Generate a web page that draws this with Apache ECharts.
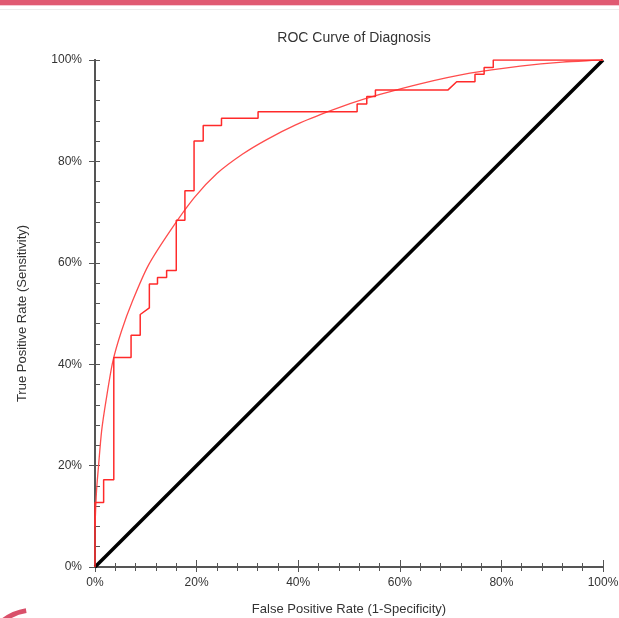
<!DOCTYPE html>
<html>
<head>
<meta charset="utf-8">
<script src="https://cdn.jsdelivr.net/npm/echarts@6/dist/echarts.min.js"></script>
<style>
	html, body { margin: 0; padding: 0; background: #fff; }
	#chart_roc { width: 619px; height: 618px; }
</style>
</head>
<body>
<div id="chart_roc"></div>
<script>
// empirical ROC (step) points, in percent
var stepFpr = [0, 0, 1.7, 1.7, 3.7, 3.7, 7.1, 7.1, 8.9, 8.9, 10.7, 10.7, 12.3, 12.3, 14.1, 14.1, 16.0, 16.0, 17.7, 17.7, 19.5, 19.5, 21.3, 21.3, 24.9, 24.9, 32.1, 32.1, 51.6, 51.6, 53.5, 53.5, 55.2, 55.2, 69.5, 71.2, 74.8, 74.8, 76.6, 76.6, 78.4, 78.4, 100];
var stepTpr = [0, 12.7, 12.7, 17.2, 17.2, 41.3, 41.3, 45.7, 45.7, 49.8, 51.1, 55.8, 55.8, 57.1, 57.1, 58.5, 58.5, 68.4, 68.4, 74.2, 74.2, 84.0, 84.0, 87.1, 87.1, 88.5, 88.5, 89.8, 89.8, 91.3, 91.3, 92.8, 92.8, 94.1, 94.1, 95.7, 95.7, 97.2, 97.2, 98.5, 98.5, 100, 100];

// fitted (smooth) ROC curve
var fitFpr = [0, 0.3, 0.7, 1.3, 2.2, 3.5, 5.2, 7.4, 10.5, 14.8, 19.5, 24, 29, 33.8, 39.5, 45.6, 50.2, 56.1, 64, 73.8, 83.7, 92, 100];
var fitTpr = [8, 15, 20, 26.8, 33, 40.5, 46.5, 52.5, 59.5, 66.3, 72.8, 77.6, 81.4, 84.3, 87.2, 89.7, 91.4, 93.2, 95.3, 97.4, 98.8, 99.6, 100];

// chance line
var refFpr = [0, 100];
var refTpr = [0, 100];

var toPairs = function(xs, ys) {
	var rtn = [];
	xs.forEach(function(x, i) {
		rtn.push([x, ys[i]]);
	});
	return rtn;
};

var axisColor = '#555';
var gridBox = { left: 95, right: 16, top: 60, bottom: 51, outerBoundsMode: 'none' };

var option_roc = {
	animation: false,
	backgroundColor: '#fff',
	title: {
		text: 'ROC Curve of Diagnosis',
		left: 349,
		textAlign: 'center',
		top: 26,
		textStyle: { fontFamily: 'Liberation Sans', fontSize: 14, fontWeight: 'normal', color: '#333' }
	},
	grid: [
		echarts.util.clone(gridBox),
		echarts.util.clone(gridBox)
	],
	xAxis: [
		{
			type: 'value', gridIndex: 0, position: 'bottom',
			min: 0, max: 100, interval: 20,
			name: 'False Positive Rate (1-Specificity)',
			nameLocation: 'middle', nameGap: 36,
			nameTextStyle: { fontFamily: 'Liberation Sans', fontSize: 13, color: '#333' },
			axisLine: { lineStyle: { color: axisColor, width: 2 } },
			axisTick: { length: 5, lineStyle: { color: axisColor } },
			minorTick: { show: true, splitNumber: 5, length: 4, lineStyle: { color: axisColor } },
			axisLabel: { margin: 10, formatter: '{value}%', fontFamily: 'Liberation Sans', fontSize: 12, color: '#333' },
			splitLine: { show: false }
		},
		{
			type: 'value', gridIndex: 0, position: 'top',
			min: 0, max: 100, interval: 20,
			axisLine: { lineStyle: { color: axisColor, width: 2 } },
			axisTick: { length: 7, lineStyle: { color: axisColor } },
			minorTick: { show: true, splitNumber: 5, length: 4, lineStyle: { color: axisColor } },
			axisLabel: { show: false },
			splitLine: { show: false }
		},
		{
			type: 'value', gridIndex: 1, min: 0, max: 100, show: false
		}
	],
	yAxis: [
		{
			type: 'value', gridIndex: 0, position: 'left',
			min: 0, max: 100, interval: 20,
			name: 'True Positive Rate (Sensitivity)',
			nameLocation: 'middle', nameGap: 66,
			nameTextStyle: { fontFamily: 'Liberation Sans', fontSize: 13, color: '#333' },
			axisLine: { lineStyle: { color: axisColor, width: 2 } },
			axisTick: { length: 6, lineStyle: { color: axisColor } },
			axisLabel: { margin: 13, formatter: '{value}%', fontFamily: 'Liberation Sans', fontSize: 12, color: '#333' },
			splitLine: { show: false }
		},
		{
			type: 'value', gridIndex: 0, position: 'right',
			min: 0, max: 100, interval: 20,
			axisLine: { lineStyle: { color: axisColor, width: 2 } },
			axisTick: { length: 5, lineStyle: { color: axisColor } },
			minorTick: { show: true, splitNumber: 5, length: 5, lineStyle: { color: axisColor } },
			axisLabel: { show: false },
			splitLine: { show: false }
		},
		{
			// inner minor ticks on the left side
			type: 'value', gridIndex: 1, position: 'left',
			min: 0, max: 100, interval: 4,
			axisLine: { show: false },
			axisTick: { inside: true, length: 5, lineStyle: { color: axisColor } },
			axisLabel: { show: false },
			splitLine: { show: false }
		}
	],
	series: [
		{
			name: 'Reference',
			type: 'line',
			xAxisIndex: 0, yAxisIndex: 0,
			data: toPairs(refFpr, refTpr),
			showSymbol: false,
			lineStyle: { color: '#000', width: 3.5 },
			z: 2
		},
		{
			name: 'Fitted',
			type: 'line',
			xAxisIndex: 0, yAxisIndex: 0,
			data: toPairs(fitFpr, fitTpr),
			showSymbol: false,
			smooth: 0.25,
			lineStyle: { color: '#ff4d4d', width: 1.3 },
			z: 3
		},
		{
			name: 'Empirical',
			type: 'line',
			xAxisIndex: 0, yAxisIndex: 0,
			data: toPairs(stepFpr, stepTpr),
			showSymbol: false,
			lineStyle: { color: '#ff2a2a', width: 1.5 },
			z: 4
		}
	],
	graphic: [
		{ type: 'rect', left: 0, top: 0, shape: { width: 619, height: 5 }, style: { fill: '#e05a72' } },
		{ type: 'rect', left: 0, top: 5, shape: { width: 619, height: 1 }, style: { fill: '#f6c9d2' } },
		{ type: 'rect', left: 0, top: 9, shape: { width: 619, height: 1 }, style: { fill: '#ececec' } },
		{ type: 'arc', shape: { cx: 34, cy: 660, r: 50, startAngle: Math.PI * 1.05, endAngle: Math.PI * 1.45 }, style: { stroke: '#d9506a', lineWidth: 5, fill: null } }
	]
};

var chart_roc = echarts.init(document.getElementById('chart_roc'));
chart_roc.setOption(option_roc, true);
</script>
</body>
</html>
